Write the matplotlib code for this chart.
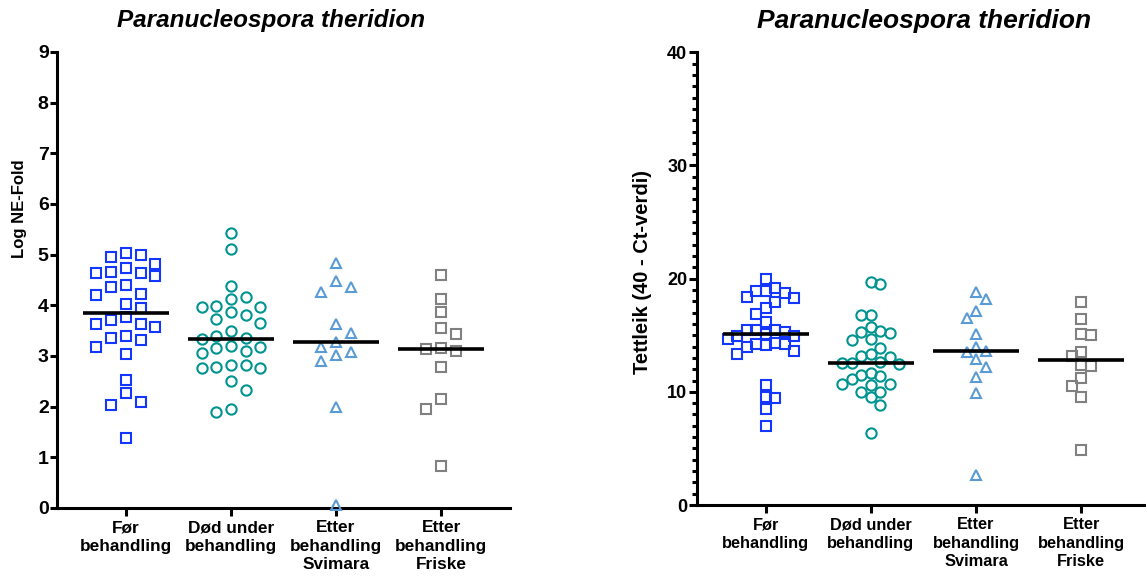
import matplotlib
matplotlib.use("Agg")
import matplotlib.pyplot as plt
import numpy as np
from matplotlib.ticker import MultipleLocator

plt.rcParams["font.family"] = ["Liberation Sans", "DejaVu Sans"]
plt.rcParams["font.weight"] = "bold"

TITLE = "Paranucleospora theridion"
categories = ["Før\nbehandling", "Død under\nbehandling",
              "Etter\nbehandling\nSvimara", "Etter\nbehandling\nFriske"]

# Log NE-Fold (left panel)
log_before = [5.03, 4.99, 4.95, 4.82, 4.74, 4.66, 4.64, 4.63, 4.58, 4.40,
              4.37, 4.22, 4.20, 4.02, 3.94, 3.76, 3.71, 3.63, 3.63, 3.57,
              3.39, 3.35, 3.32, 3.17, 3.03, 2.53, 2.26, 2.10, 2.03, 1.38]
log_died = [5.43, 5.11, 4.39, 4.16, 4.12, 3.99, 3.96, 3.96, 3.87, 3.80,
            3.74, 3.65, 3.50, 3.39, 3.36, 3.33, 3.20, 3.17, 3.15, 3.10,
            3.05, 2.82, 2.82, 2.79, 2.76, 2.76, 2.51, 2.32, 1.95, 1.89]
log_svimara = [4.84, 4.49, 4.36, 4.26, 3.63, 3.45, 3.27, 3.18, 3.07, 3.01,
               2.91, 2.00, 0.06]
log_friske = [4.60, 4.12, 3.87, 3.56, 3.43, 3.16, 3.13, 3.10, 2.79, 2.16,
              1.95, 0.83]

# Tettleik (40 - Ct-verdi) (right panel)
ct_before = [19.96, 19.14, 18.93, 18.90, 18.75, 18.35, 18.26, 17.96, 17.38,
             16.85, 16.19, 15.46, 15.46, 15.46, 15.31, 15.11, 14.93, 14.93,
             14.64, 14.28, 14.22, 14.22, 14.13, 13.93, 13.63, 13.34, 10.60,
             9.57, 9.48, 8.48, 7.00]
ct_died = [19.67, 19.52, 16.78, 16.78, 15.75, 15.37, 15.25, 15.16, 14.66,
           14.58, 13.84, 13.34, 13.19, 13.10, 12.61, 12.52, 12.52, 12.46,
           11.63, 11.48, 11.40, 11.13, 10.69, 10.69, 10.60, 10.01, 9.96,
           9.57, 8.83, 6.39]
ct_svimara = [18.84, 18.17, 17.16, 16.55, 15.08, 13.98, 13.60, 13.49, 12.87,
              12.22, 11.33, 9.86, 2.65]
ct_friske = [17.91, 16.40, 15.11, 15.02, 13.55, 13.19, 12.37, 12.28, 11.19,
             10.51, 9.57, 4.86]

styles = [("s", "#1437FF"), ("o", "#009490"), ("^", "#5B9BD5"), ("s", "#808080")]


def swarm_offsets(ax, values, spacing_px, sep_px):
    """Column-based swarm: place each point in the nearest free column."""
    t = ax.transData
    px_y = abs(t.transform((0, 1))[1] - t.transform((0, 0))[1])
    px_x = abs(t.transform((1, 0))[0] - t.transform((0, 0))[0])
    vals = np.asarray(values, dtype=float)
    offs = np.zeros(len(vals))
    placed = []
    for i in np.argsort(-vals):
        y = vals[i] * px_y
        k = 0
        chosen = None
        while chosen is None:
            cands = [0] if k == 0 else [k, -k]
            if k:
                # put the point on the lighter side first
                right = sum(1 for c, _ in placed if c > 0)
                left = sum(1 for c, _ in placed if c < 0)
                if left < right:
                    cands = [-k, k]
            for c in cands:
                if all(abs(y - py) >= sep_px for cc, py in placed if cc == c):
                    chosen = c
                    break
            k += 1
        placed.append((chosen, y))
        offs[i] = chosen * spacing_px / px_x
    return offs


def panel(ax, groups, ylim, major, spacing_px, sep_px, tick_fs, xfs):
    ax.set_xlim(-0.655, 3.655)
    ax.set_ylim(*ylim)
    for side in ("top", "right"):
        ax.spines[side].set_visible(False)
    for side in ("left", "bottom"):
        ax.spines[side].set_linewidth(2.2)
    ax.yaxis.set_major_locator(MultipleLocator(major))
    ax.tick_params(axis="y", length=5, width=2.2, pad=1, labelsize=tick_fs)
    ax.tick_params(axis="x", length=5.8, width=2.2, pad=3, labelsize=xfs)
    ax.set_xticks(range(len(categories)))
    ax.set_xticklabels(categories, linespacing=1.3)
    for i, (vals, (mk, col)) in enumerate(zip(groups, styles)):
        offs = swarm_offsets(ax, vals, spacing_px, sep_px)
        ms = 7.4 if mk == "o" else 7.6
        ax.plot(i + offs, vals, linestyle="none", marker=mk, ms=ms,
                mfc="none", mec=col, mew=1.5, clip_on=False, zorder=3)
        med = np.median(vals)
        ax.plot([i - 0.41, i + 0.41], [med, med], color="black", lw=2.6,
                solid_capstyle="butt", zorder=4)


fig = plt.figure(figsize=(11.46, 5.79), dpi=100)
W, H = 1146, 579

ax1 = fig.add_axes([57 / W, (H - 508) / H, (510 - 57) / W, (508 - 52) / H])
panel(ax1, [log_before, log_died, log_svimara, log_friske], (0, 9), 1,
      14.7, 12.0, 14, 12.4)

ax2 = fig.add_axes([697 / W, (H - 505) / H, (1150 - 697) / W, (505 - 52.3) / H])
panel(ax2, [ct_before, ct_died, ct_svimara, ct_friske], (0, 40), 10,
      9.5, 11.0, 13, 11.8)
ax2.yaxis.set_minor_locator(MultipleLocator(1))
ax2.tick_params(axis="y", which="major", length=6)
ax2.tick_params(axis="y", which="minor", length=3.5, width=2.2)

fig.text(271 / W, 1 - 21 / H, TITLE, ha="center", va="center",
         fontsize=17.5, fontweight="bold", fontstyle="italic")
fig.text(924 / W, 1 - 21 / H, TITLE, ha="center", va="center",
         fontsize=19, fontweight="bold", fontstyle="italic")
fig.text(20 / W, 1 - 209 / H, "Log NE-Fold", rotation=90, ha="center",
         va="center", fontsize=12, fontweight="bold")
fig.text(643 / W, 1 - 272 / H, "Tettleik (40 - Ct-verdi)", rotation=90,
         ha="center", va="center", fontsize=14.5, fontweight="bold")

fig.savefig("out.png", dpi=100)
